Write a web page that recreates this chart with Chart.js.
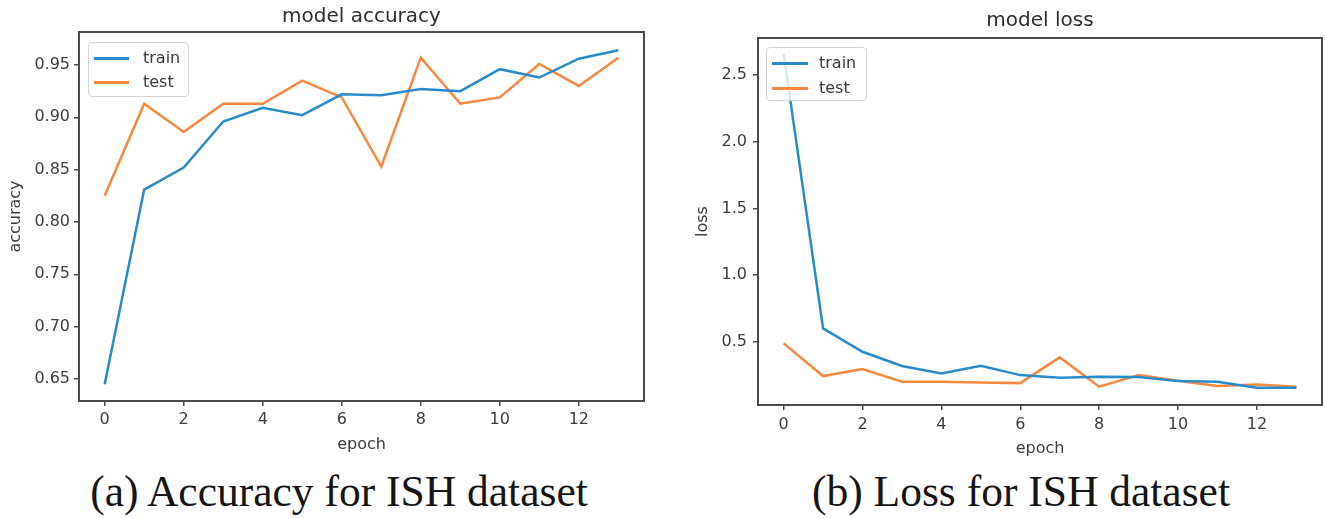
<!DOCTYPE html>
<html><head><meta charset="utf-8">
<script src="https://cdn.jsdelivr.net/npm/chart.js@4"></script>
<style>
body{margin:0;width:1325px;height:518px;background:#fff;position:relative;overflow:hidden;font-family:"DejaVu Sans";}
canvas{position:absolute;top:0;}
#c1{left:0;}
#c2{left:660px;}
.legend{position:absolute;border:1px solid #d4d4d4;border-radius:4px;background:rgba(255,255,255,0.8);font:16px "DejaVu Sans";color:#3a3a3a;box-sizing:border-box;}
.legend .row{position:absolute;left:0;height:20px;width:100%;}
.legend .ln{position:absolute;height:2.5px;}
.legend .tx{position:absolute;line-height:20px;top:-10px;white-space:nowrap;}
.cap{position:absolute;font-family:"Liberation Serif";font-size:43.5px;color:#151515;white-space:nowrap;transform:translate(-50%,-50%);}
</style>
</head><body>
<canvas id="c1" width="660" height="460"></canvas>
<canvas id="c2" width="665" height="460"></canvas>
<div class="cap" style="left:339px;top:491px;">(a) Accuracy for ISH dataset</div>
<div class="cap" style="left:1021px;top:491px;">(b) Loss for ISH dataset</div>
<script>
const epochs = [0,1,2,3,4,5,6,7,8,9,10,11,12,13];
const accTrain = [0.645,0.831,0.852,0.896,0.909,0.902,0.922,0.921,0.927,0.925,0.946,0.938,0.956,0.964];
const accTest  = [0.825,0.913,0.886,0.913,0.913,0.935,0.919,0.853,0.957,0.913,0.919,0.951,0.930,0.957];
const lossTrain = [2.66,0.60,0.425,0.318,0.263,0.32,0.25,0.23,0.238,0.235,0.205,0.20,0.155,0.155];
const lossTest  = [0.488,0.243,0.295,0.20,0.20,0.195,0.19,0.383,0.163,0.25,0.208,0.168,0.18,0.163];
const epochTicks = [0,2,4,6,8,10,12];
const accTicks = [0.65,0.70,0.75,0.80,0.85,0.90,0.95];
const lossTicks = [0.5,1.0,1.5,2.0,2.5];
const seriesNames = ['train','test'];
const seriesColors = ['#2a8bcb','#f4893f'];

const FONT = 'DejaVu Sans';
const TXT = '#3d3d3d';
const AX = '#4a4a4a';

const framePlugin = {
  id:'frame',
  afterDraw(chart){
    const a = chart.chartArea, ctx = chart.ctx;
    ctx.save();
    ctx.strokeStyle = AX; ctx.lineWidth = 2;
    ctx.strokeRect(a.left, a.top, a.right - a.left, a.bottom - a.top);
    ctx.restore();
  }
};

function makeChart(id, cfg){
  const ds = cfg.series.map((vals,i)=>({
    label: seriesNames[i],
    data: epochs.map((e,j)=>({x:e, y:vals[j]})),
    borderColor: seriesColors[i], backgroundColor: seriesColors[i],
    borderWidth: 2.5, pointRadius: 0, tension: 0, fill:false
  }));
  return new Chart(document.getElementById(id), {
    type:'line',
    data:{datasets:ds},
    plugins:[framePlugin],
    options:{
      responsive:false, animation:false, devicePixelRatio:1,
      layout:{padding:{left:0,right:cfg.padRight,top:0,bottom:0}},
      plugins:{
        legend:{display:false}, tooltip:{enabled:false},
        title:{display:true,text:cfg.title,fullSize:false,color:'#2e2e2e',
          font:{family:FONT,size:20,weight:'normal'},padding:cfg.titlePad}
      },
      scales:{
        x:{type:'linear',min:-0.65,max:13.65,
          afterBuildTicks:s=>{s.ticks = epochTicks.map(v=>({value:v}));},
          afterFit:s=>{s.height = cfg.xHeight;},
          grid:{display:true,drawOnChartArea:false,drawTicks:true,tickLength:5,color:AX,lineWidth:1.5},
          border:{display:true,color:AX,width:2},
          ticks:{padding:cfg.xTickPad,color:TXT,font:{family:FONT,size:16},maxRotation:0,autoSkip:false,callback:v=>String(v)},
          title:{display:true,text:'epoch',color:TXT,font:{family:FONT,size:16},padding:{top:0,bottom:cfg.xTitleBottom}}
        },
        y:{type:'linear',min:cfg.ymin,max:cfg.ymax,
          afterBuildTicks:s=>{s.ticks = cfg.yTicks.map(v=>({value:v}));},
          afterFit:s=>{s.width = cfg.yWidth;},
          grid:{display:true,drawOnChartArea:false,drawTicks:true,tickLength:5,color:AX,lineWidth:1.5},
          border:{display:true,color:AX,width:2},
          ticks:{padding:cfg.yTickPad,color:TXT,font:{family:FONT,size:16},autoSkip:false,callback:v=>Number(v).toFixed(cfg.dec)},
          title:{display:true,text:cfg.ylabel,color:TXT,font:{family:FONT,size:16},padding:{top:cfg.yTitleTop,bottom:0}}
        }
      }
    }
  });
}

makeChart('c1',{title:'model accuracy',ylabel:'accuracy',series:[accTrain,accTest],
  ymin:0.629,ymax:0.9815,yTicks:accTicks,dec:2,padRight:16,titlePad:{top:5,bottom:3},
  xHeight:59,yWidth:79,xTickPad:4,xTitleBottom:6,yTickPad:4,yTitleTop:6});
makeChart('c2',{title:'model loss',ylabel:'loss',series:[lossTrain,lossTest],
  ymin:0.026,ymax:2.777,yTicks:lossTicks,dec:1,padRight:3,titlePad:{top:9,bottom:5},
  xHeight:55,yWidth:98,xTickPad:5,xTitleBottom:2,yTickPad:6,yTitleTop:33});

function makeLegend(box){
  const d = document.createElement('div');
  d.className='legend';
  Object.assign(d.style,{left:box.x+'px',top:box.y+'px',width:box.w+'px',height:box.h+'px'});
  seriesNames.forEach((n,i)=>{
    const r = document.createElement('div'); r.className='row'; r.style.top=box.rows[i]+'px';
    const l = document.createElement('div'); l.className='ln';
    Object.assign(l.style,{left:box.lx+'px',width:box.lw+'px',top:'-1px',background:seriesColors[i]});
    const t = document.createElement('div'); t.className='tx'; t.style.left=box.tx+'px'; t.textContent=n;
    r.appendChild(l); r.appendChild(t); d.appendChild(r);
  });
  document.body.appendChild(d);
}
makeLegend({x:88,y:42,w:101,h:55,rows:[15,39],lx:5,lw:35,tx:54});
makeLegend({x:766,y:47,w:101,h:54,rows:[15,40],lx:5,lw:36,tx:52});
</script>
</body></html>
